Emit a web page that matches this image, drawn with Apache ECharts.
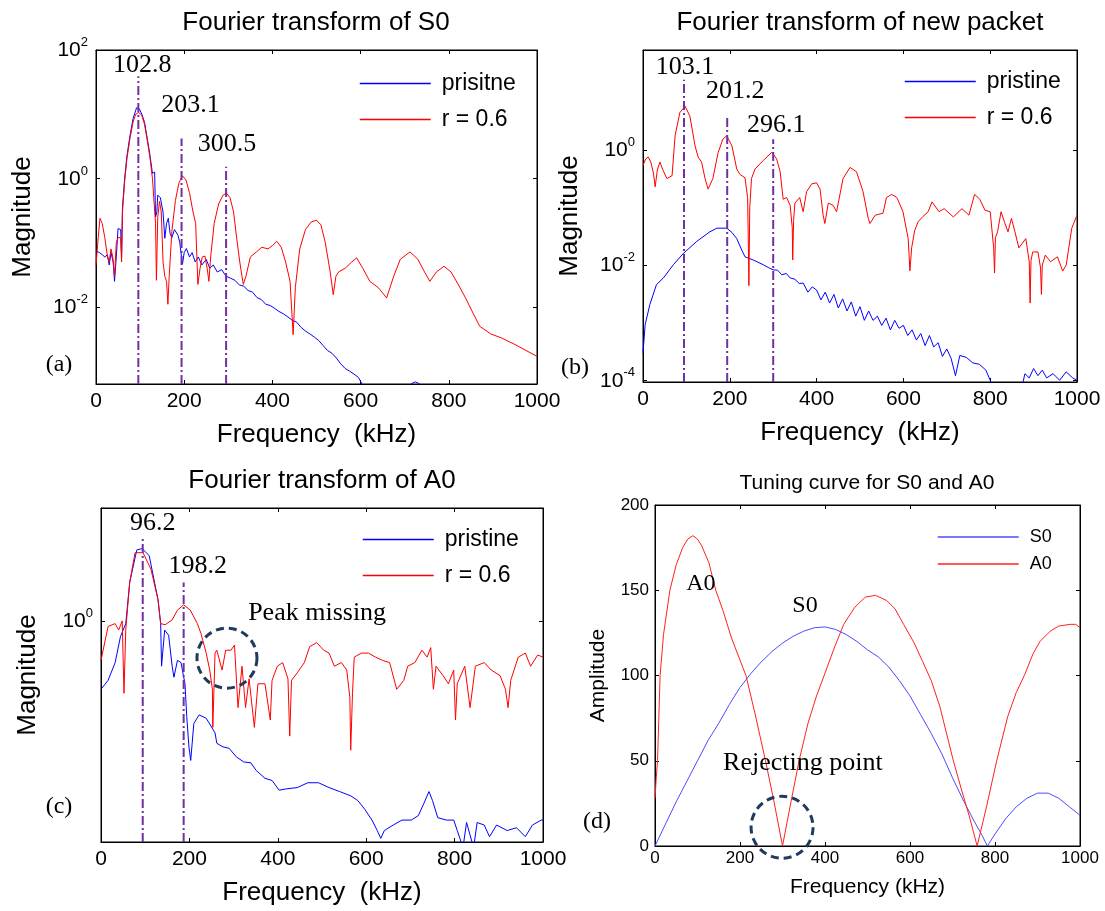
<!DOCTYPE html>
<html>
<head>
<meta charset="utf-8">
<title>Fourier transforms and tuning curve</title>
<script src="https://cdn.jsdelivr.net/npm/echarts@6/dist/echarts.min.js"></script>
<style>
html, body { margin: 0; padding: 0; background: #fff; }
#chart { width: 1105px; height: 911px; }
</style>
</head>
<body>
<div id="chart"></div>
<script>
// (a) Fourier transform of S0, [kHz, magnitude]
const s0Pristine = [[0,0.074],[8,0.07],[14,0.065],[20,0.06],[26,0.065],[30,0.045],[34,0.07],[39,0.05],[42,0.025],[46,0.06],[50,0.166],[56,0.16],[58,0.058],[60,0.35],[65,1.0],[70,2.2],[77,4.6],[84,8.5],[92,12.6],[98,12.2],[104,10],[110,7.5],[116,4.3],[122,2.4],[128,1.2],[133,1.26],[135,0.25],[138,0.3],[140,0.55],[146,0.5],[152,0.3],[156,0.117],[160,0.2],[164,0.24],[168,0.14],[172,0.12],[178,0.16],[186,0.13],[190,0.1],[196,0.046],[200,0.07],[205,0.081],[212,0.06],[218,0.07],[225,0.05],[232,0.06],[240,0.045],[250,0.055],[258,0.04],[266,0.045],[275,0.035],[285,0.038],[295,0.03],[305,0.028],[315,0.026],[325,0.022],[335,0.021],[345,0.018],[355,0.017],[365,0.014],[375,0.013],[385,0.011],[395,0.0105],[405,0.0095],[415,0.0085],[425,0.0078],[435,0.007],[445,0.0062],[455,0.0058],[465,0.0048],[475,0.0042],[485,0.0038],[495,0.0034],[505,0.003],[515,0.0025],[525,0.0021],[535,0.0019],[545,0.0016],[555,0.0013],[565,0.0011],[575,0.001],[585,0.0009],[595,0.0008],[605,0.0006],[620,0.0005],[700,0.0005],[715,0.00064],[724,0.00068],[733,0.00064],[745,0.0005],[800,0.0004],[1000,0.0004]];
const s0Damaged = [[0,0.045],[5,0.12],[9,0.24],[14,0.2],[20,0.12],[26,0.06],[30,0.05],[34,0.08],[38,0.06],[42,0.03],[46,0.1],[50,0.12],[56,0.12],[58,0.05],[60,0.3],[65,0.9],[70,2.0],[77,4.2],[84,7.5],[90,10],[97,10.7],[104,9.5],[110,7],[116,4],[122,2.2],[128,1.0],[132,0.4],[135,0.2],[137,0.026],[140,0.25],[144,0.44],[148,0.3],[152,0.05],[156,0.03],[160,0.025],[163,0.011],[166,0.03],[172,0.15],[180,0.45],[188,0.85],[196,1.1],[204,0.95],[212,0.6],[220,0.3],[226,0.2],[231,0.0224],[236,0.04],[241,0.06],[247,0.062],[252,0.04],[256,0.025],[260,0.06],[268,0.2],[278,0.4],[288,0.55],[296,0.59],[304,0.5],[312,0.3],[319,0.117],[326,0.05],[334,0.0224],[340,0.03],[350,0.06],[364,0.072],[376,0.085],[390,0.08],[400,0.09],[410,0.105],[420,0.085],[430,0.05],[440,0.025],[447,0.0037],[452,0.02],[462,0.08],[475,0.16],[488,0.21],[500,0.224],[510,0.19],[520,0.1],[531,0.035],[538,0.0155],[544,0.03],[550,0.035],[565,0.04],[580,0.05],[591,0.058],[605,0.04],[621,0.025],[640,0.02],[659,0.0138],[675,0.03],[690,0.055],[712,0.072],[730,0.055],[745,0.035],[757,0.025],[772,0.035],[789,0.043],[805,0.035],[822,0.022],[838,0.0138],[855,0.008],[870,0.005],[895,0.0038],[919,0.0033],[950,0.0026],[975,0.0021],[1000,0.0017]];
const peakFreqS0 = [96, 194, 295];
const peakTopS0 = [39, 4.2, 1.52];
const peakTextS0 = ['102.8', '203.1', '300.5'];

// (b) Fourier transform of new packet
const packetPristine = [[0,0.0003],[5,0.00093],[16,0.0021],[31,0.0046],[47,0.006],[70,0.0102],[93,0.016],[124,0.026],[154,0.038],[170,0.044],[193,0.044],[205,0.037],[216,0.029],[228,0.018],[235,0.014],[254,0.0123],[277,0.0102],[290,0.009],[300,0.0083],[310,0.0082],[320,0.0068],[330,0.0072],[339,0.006],[350,0.0057],[360,0.0048],[369,0.0049],[380,0.0034],[390,0.0042],[400,0.0037],[410,0.0025],[420,0.0034],[430,0.0022],[440,0.0031],[450,0.0018],[460,0.0026],[470,0.0016],[480,0.0023],[490,0.0013],[500,0.0019],[510,0.0011],[520,0.0016],[530,0.0011],[540,0.0013],[550,0.0009],[560,0.0012],[570,0.00075],[580,0.0011],[590,0.0008],[600,0.0009],[610,0.0006],[620,0.00075],[630,0.0005],[640,0.00065],[650,0.0004],[660,0.0006],[670,0.00038],[680,0.00045],[690,0.00026],[700,0.00035],[710,0.00024],[720,0.00012],[730,0.00027],[745,0.00025],[760,0.0002],[775,0.00019],[790,0.00015],[800,0.0001],[810,0.00006],[870,0.00006],[880,0.00013],[890,0.00011],[900,0.00016],[910,0.00012],[920,0.00015],[930,0.00011],[945,0.00013],[960,0.0001],[975,0.00014],[990,0.00011],[1000,0.0001]];
const packetDamaged = [[0,0.54],[6,0.7],[12,0.76],[18,0.62],[24,0.4],[28,0.23],[33,0.45],[39,0.62],[46,0.45],[55,0.32],[67,0.36],[74,1.8],[85,4.5],[97,5.8],[108,3.9],[120,1.18],[127,0.76],[135,0.62],[143,0.32],[150,0.21],[161,0.32],[173,0.9],[184,1.55],[193,1.77],[205,1.18],[216,0.47],[223,0.38],[235,0.33],[241,0.15],[242,0.057],[244,0.0044],[246,0.1],[250,0.32],[258,0.47],[277,0.66],[297,0.92],[308,0.7],[316,0.42],[323,0.14],[331,0.15],[339,0.11],[344,0.044],[345,0.0123],[347,0.06],[350,0.12],[361,0.15],[369,0.085],[377,0.19],[389,0.26],[400,0.27],[408,0.21],[415,0.074],[419,0.053],[427,0.12],[438,0.11],[446,0.085],[461,0.32],[477,0.5],[492,0.42],[507,0.19],[519,0.065],[523,0.053],[535,0.074],[553,0.08],[561,0.15],[573,0.17],[585,0.15],[599,0.085],[611,0.029],[615,0.008],[619,0.02],[626,0.04],[634,0.057],[645,0.07],[657,0.085],[666,0.126],[682,0.085],[694,0.096],[715,0.069],[735,0.096],[751,0.074],[764,0.17],[776,0.14],[788,0.09],[800,0.085],[808,0.02],[810,0.0073],[812,0.03],[817,0.038],[825,0.085],[833,0.056],[841,0.038],[849,0.065],[857,0.038],[866,0.02],[882,0.029],[890,0.0115],[892,0.0022],[894,0.012],[898,0.017],[910,0.017],[916,0.009],[918,0.0031],[920,0.01],[927,0.015],[939,0.0115],[955,0.014],[967,0.0079],[975,0.01],[988,0.044],[1000,0.074]];
const peakFreqPacket = [94.5, 194, 300];
const peakTopPacket = [16.7, 3.8, 1.55];
const peakTextPacket = ['103.1', '201.2', '296.1'];

// (c) Fourier transform of A0
const a0Pristine = [[0,0.27],[16,0.32],[32,0.45],[44,0.74],[56,0.95],[65,2.1],[81,3.9],[93,4.0],[109,3.5],[129,1.5],[135,0.95],[137,0.42],[144,0.84],[153,0.76],[161,0.42],[165,0.34],[173,0.47],[181,0.45],[190,0.3],[194,0.16],[199,0.089],[203,0.069],[210,0.14],[222,0.165],[238,0.155],[258,0.117],[262,0.096],[274,0.09],[290,0.087],[306,0.074],[323,0.067],[339,0.066],[351,0.057],[371,0.049],[387,0.047],[403,0.039],[419,0.04],[444,0.041],[468,0.045],[492,0.045],[516,0.041],[540,0.038],[565,0.035],[581,0.032],[597,0.027],[613,0.022],[625,0.018],[633,0.0155],[641,0.018],[661,0.02],[681,0.022],[702,0.022],[718,0.024],[730,0.03],[742,0.038],[750,0.032],[762,0.023],[782,0.022],[798,0.022],[806,0.018],[819,0.013],[827,0.021],[843,0.013],[851,0.021],[867,0.02],[879,0.016],[895,0.02],[919,0.018],[940,0.019],[960,0.016],[976,0.02],[996,0.022],[1000,0.022]];
const a0Damaged = [[0,0.47],[16,0.9],[32,0.95],[40,0.84],[48,1.0],[52,0.25],[56,0.84],[65,2.1],[77,3.7],[95,3.7],[113,2.7],[129,1.5],[135,0.95],[145,0.93],[161,1.02],[173,1.23],[187,1.36],[202,1.23],[218,0.95],[226,0.79],[238,0.54],[246,0.39],[252,0.27],[253,0.13],[258,0.54],[262,0.57],[274,0.39],[282,0.57],[294,0.57],[302,0.63],[310,0.19],[319,0.42],[327,0.19],[335,0.33],[347,0.13],[355,0.3],[371,0.3],[383,0.15],[387,0.32],[399,0.42],[411,0.45],[423,0.33],[427,0.11],[431,0.32],[444,0.37],[460,0.45],[472,0.61],[488,0.66],[504,0.57],[516,0.54],[528,0.42],[544,0.45],[556,0.39],[563,0.23],[565,0.084],[569,0.25],[573,0.5],[589,0.54],[605,0.54],[621,0.5],[637,0.47],[653,0.45],[669,0.27],[685,0.32],[694,0.42],[710,0.45],[726,0.57],[738,0.5],[746,0.6],[752,0.27],[758,0.42],[774,0.35],[786,0.3],[798,0.39],[802,0.15],[806,0.3],[823,0.42],[835,0.19],[847,0.42],[867,0.45],[883,0.39],[903,0.35],[915,0.27],[921,0.19],[927,0.32],[944,0.5],[960,0.54],[972,0.42],[988,0.52],[1000,0.5]];
const peakFreqA0 = [94.4, 187];
const peakTopA0 = [5.1, 2.09];
const peakTextA0 = ['96.2', '198.2'];

// (d) Tuning curve for S0 and A0, [kHz, amplitude]
const tuningS0 = [[0,0],[25,13],[50,26],[75,38],[100,50],[125,62],[150,72],[175,83],[200,93],[225,101],[250,108],[275,114],[300,119],[325,123],[350,126],[375,128],[400,128.5],[425,127],[450,124],[475,120],[500,115],[525,111],[550,105],[575,97],[600,88],[625,77],[650,66],[675,54],[700,40],[725,27],[750,15],[770,6],[782,0],[800,7],[825,16],[850,23],[875,28],[900,31],[925,31],[950,28],[975,23],[1000,18]];
const tuningA0 = [[0,28],[3,40],[6,50],[9,75],[12,100],[20,124],[35,150],[50,165],[65,175],[77,180],[89,182],[100,180],[110,176],[127,166],[143,150],[160,138],[180,122],[200,109],[214,100],[235,78],[260,50],[280,26],[300,0],[320,26],[339,50],[360,72],[380,88],[398,100],[420,115],[444,130],[470,140],[495,146],[519,147],[545,144],[565,139],[585,130],[610,119],[630,108],[650,97],[670,82],[690,62],[702,50],[720,34],[740,17],[758,0],[780,23],[804,50],[830,76],[850,90],[869,100],[890,113],[906,120],[930,126],[950,129],[977,130],[990,130],[1000,128]];

const SANS = '"Liberation Sans", Arial, sans-serif';
const SERIF = '"Liberation Serif", "Times New Roman", serif';
const PURPLE = '#7030a0';
const NAVY = '#1f3a5c';

const grids = [
  { left: 96, top: 50, width: 441, height: 334 },
  { left: 643, top: 50, width: 434, height: 332 },
  { left: 101, top: 508, width: 442, height: 334 },
  { left: 655, top: 505, width: 425, height: 341 }
];
// log ranges: [min, max, decade ticks]
const logRanges = [
  [Math.pow(10, -3.2), 100, [0.01, 1, 100]],
  [Math.pow(10, -4.03), Math.pow(10, 1.74), [0.0001, 0.01, 1]],
  [Math.pow(10, -1.84), Math.pow(10, 0.94), [1]]
];

function logLabel(v) {
  return '{b|10}{e|' + Math.round(Math.log10(v)) + '}';
}

function xAxis(i, pos) {
  const small = i === 3;
  return {
    type: 'value', gridIndex: i, position: pos, min: 0, max: 1000, interval: 200,
    axisLine: { show: true, onZero: false, lineStyle: { color: '#000', width: 1 } },
    axisTick: { show: true, inside: true, length: 4, lineStyle: { color: '#000' } },
    axisLabel: {
      show: pos === 'bottom', color: '#000', fontFamily: SANS, fontSize: small ? 17 : 21, margin: small ? 4 : 7,
      formatter: function (v) { return String(v); }
    },
    splitLine: { show: false },
    name: pos === 'bottom' ? (small ? 'Frequency (kHz)' : 'Frequency  (kHz)') : '',
    nameLocation: 'middle', nameGap: small ? 31 : 38,
    nameTextStyle: { color: '#000', fontFamily: SANS, fontSize: small ? 21 : 26 }
  };
}

function logAxis(i, pos) {
  const r = logRanges[i];
  return {
    type: 'log', logBase: 10, gridIndex: i, position: pos, min: r[0], max: r[1],
    axisLine: { show: true, onZero: false, lineStyle: { color: '#000', width: 1 } },
    axisTick: { show: true, inside: true, length: 4, customValues: r[2], lineStyle: { color: '#000' } },
    minorTick: { show: false },
    axisLabel: {
      show: pos === 'left', customValues: r[2], formatter: logLabel, margin: 8,
      rich: {
        b: { fontFamily: SANS, fontSize: 21, color: '#000', lineHeight: 22, verticalAlign: 'bottom' },
        e: { fontFamily: SANS, fontSize: 13, color: '#000', lineHeight: 13, padding: [0, 0, 12, 0], verticalAlign: 'bottom' }
      }
    },
    splitLine: { show: false },
    name: pos === 'left' ? 'Magnitude' : '',
    nameLocation: 'middle', nameGap: 60,
    nameTextStyle: { color: '#000', fontFamily: SANS, fontSize: 26 }
  };
}

function ampAxis(pos) {
  return {
    type: 'value', gridIndex: 3, position: pos, min: 0, max: 200, interval: 50,
    axisLine: { show: true, onZero: false, lineStyle: { color: '#000', width: 1 } },
    axisTick: { show: true, inside: true, length: 4, lineStyle: { color: '#000' } },
    axisLabel: { show: pos === 'left', color: '#000', fontFamily: SANS, fontSize: 17, margin: 6 },
    splitLine: { show: false },
    name: pos === 'left' ? 'Amplitude' : '',
    nameLocation: 'middle', nameGap: 46,
    nameTextStyle: { color: '#000', fontFamily: SANS, fontSize: 21 }
  };
}

function curve(name, data, color, idx) {
  return {
    type: 'line', name: name, data: data, xAxisIndex: idx, yAxisIndex: idx,
    symbol: 'none', showSymbol: false, clip: true, silent: true,
    lineStyle: { color: color, width: 1 }, itemStyle: { color: color }, z: 2
  };
}

function peakLines(idx, freqs, tops, texts, offsets) {
  const floor = logRanges[idx][0];
  return freqs.map(function (f, k) {
    return {
      type: 'line', xAxisIndex: idx, yAxisIndex: idx, silent: true, z: 4,
      symbol: 'circle', symbolSize: 0, showSymbol: true,
      lineStyle: { color: PURPLE, width: 2, type: [9, 3, 2, 3] },
      itemStyle: { color: PURPLE },
      data: [[f, floor], {
        value: [f, tops[k]],
        label: {
          show: true, position: 'top', distance: 0, offset: offsets[k],
          formatter: texts[k], color: '#000', fontFamily: SERIF, fontSize: 26, lineHeight: 26
        }
      }]
    };
  });
}

function legend(names, left, top, itemWidth, fontSize, gap) {
  return {
    data: names, orient: 'vertical', left: left, top: top, padding: 0,
    itemWidth: itemWidth, itemHeight: 20, itemGap: gap, selectedMode: false,
    lineStyle: { width: 1.5 },
    itemStyle: { opacity: 0 },
    textStyle: { color: '#000', fontFamily: SANS, fontSize: fontSize, lineHeight: 20, padding: [0, 0, 0, 6] }
  };
}

const series = []
  .concat([curve('prisitne', s0Pristine, '#0000ff', 0), curve('r = 0.6', s0Damaged, '#ff0000', 0)])
  .concat(peakLines(0, peakFreqS0, peakTopS0, peakTextS0, [[4, 2], [9, -20], [1, -10]]))
  .concat([curve('pristine', packetPristine, '#0000ff', 1), curve('r = 0.6', packetDamaged, '#ff0000', 1)])
  .concat(peakLines(1, peakFreqPacket, peakTopPacket, peakTextPacket, [[1, 0], [8, -13], [3, -1]]))
  .concat([curve('pristine', a0Pristine, '#0000ff', 2), curve('r = 0.6', a0Damaged, '#ff0000', 2)])
  .concat(peakLines(2, peakFreqA0, peakTopA0, peakTextA0, [[10, 0], [14, -3]]))
  .concat([curve('S0', tuningS0, '#4b4bff', 3), curve('A0', tuningA0, '#ff2020', 3)]);

const option = {
  animation: false,
  backgroundColor: '#fff',
  grid: grids.map(function (g) {
    return Object.assign({ show: true, borderColor: '#000', borderWidth: 1, backgroundColor: 'transparent' }, g);
  }),
  xAxis: [0, 1, 2, 3].map(function (i) { return xAxis(i, 'bottom'); })
    .concat([0, 1, 2, 3].map(function (i) { return xAxis(i, 'top'); })),
  yAxis: [logAxis(0, 'left'), logAxis(1, 'left'), logAxis(2, 'left'), ampAxis('left'),
          logAxis(0, 'right'), logAxis(1, 'right'), logAxis(2, 'right'), ampAxis('right')],
  legend: [
    legend(['prisitne', 'r = 0.6'], 359, 72, 71, 23, 13),
    legend(['pristine', 'r = 0.6'], 904, 70, 71, 23, 13),
    legend(['pristine', 'r = 0.6'], 362, 528, 71, 23, 13),
    legend(['S0', 'A0'], 937, 527, 81, 18, 7)
  ],
  series: series
};

const chart = echarts.init(document.getElementById('chart'));
chart.setOption(option);

function text(str, x, y, size, family) {
  return {
    type: 'text', x: x, y: y, silent: true, z: 10,
    style: { text: str, fill: '#000', fontSize: size, fontFamily: family, align: 'center', verticalAlign: 'middle' }
  };
}
function at(idx, point) {
  return chart.convertToPixel({ xAxisIndex: idx, yAxisIndex: idx }, point);
}
function ring(p, r) {
  return {
    type: 'circle', silent: true, z: 10,
    shape: { cx: p[0], cy: p[1], r: r },
    style: { fill: 'none', stroke: NAVY, lineWidth: 3, lineDash: [8, 5] }
  };
}

const peakMissing = at(2, [489, 1.17]);
const missRing = at(2, [285, 0.49]);
const rejecting = at(3, [348, 48.7]);
const rejectRing = at(3, [299, 11]);
const labelA0 = at(3, [108, 154]);
const labelS0 = at(3, [353, 141]);

chart.setOption({
  graphic: [
    text('Fourier transform of S0', 316, 23, 26, SANS),
    text('Fourier transform of new packet', 860, 23, 26, SANS),
    text('Fourier transform of A0', 322, 481, 26, SANS),
    text('Tuning curve for S0 and A0', 867, 483, 21, SANS),
    text('(a)', 59, 365, 24, SERIF),
    text('(b)', 575, 368, 24, SERIF),
    text('(c)', 59, 807, 24, SERIF),
    text('(d)', 597, 822, 24, SERIF),
    text('Peak missing', peakMissing[0], peakMissing[1], 26, SERIF),
    text('Rejecting point', rejecting[0], rejecting[1], 26, SERIF),
    text('A0', labelA0[0], labelA0[1], 24, SERIF),
    text('S0', labelS0[0], labelS0[1], 24, SERIF),
    ring(missRing, 30),
    ring(rejectRing, 31)
  ]
});
</script>
</body>
</html>
